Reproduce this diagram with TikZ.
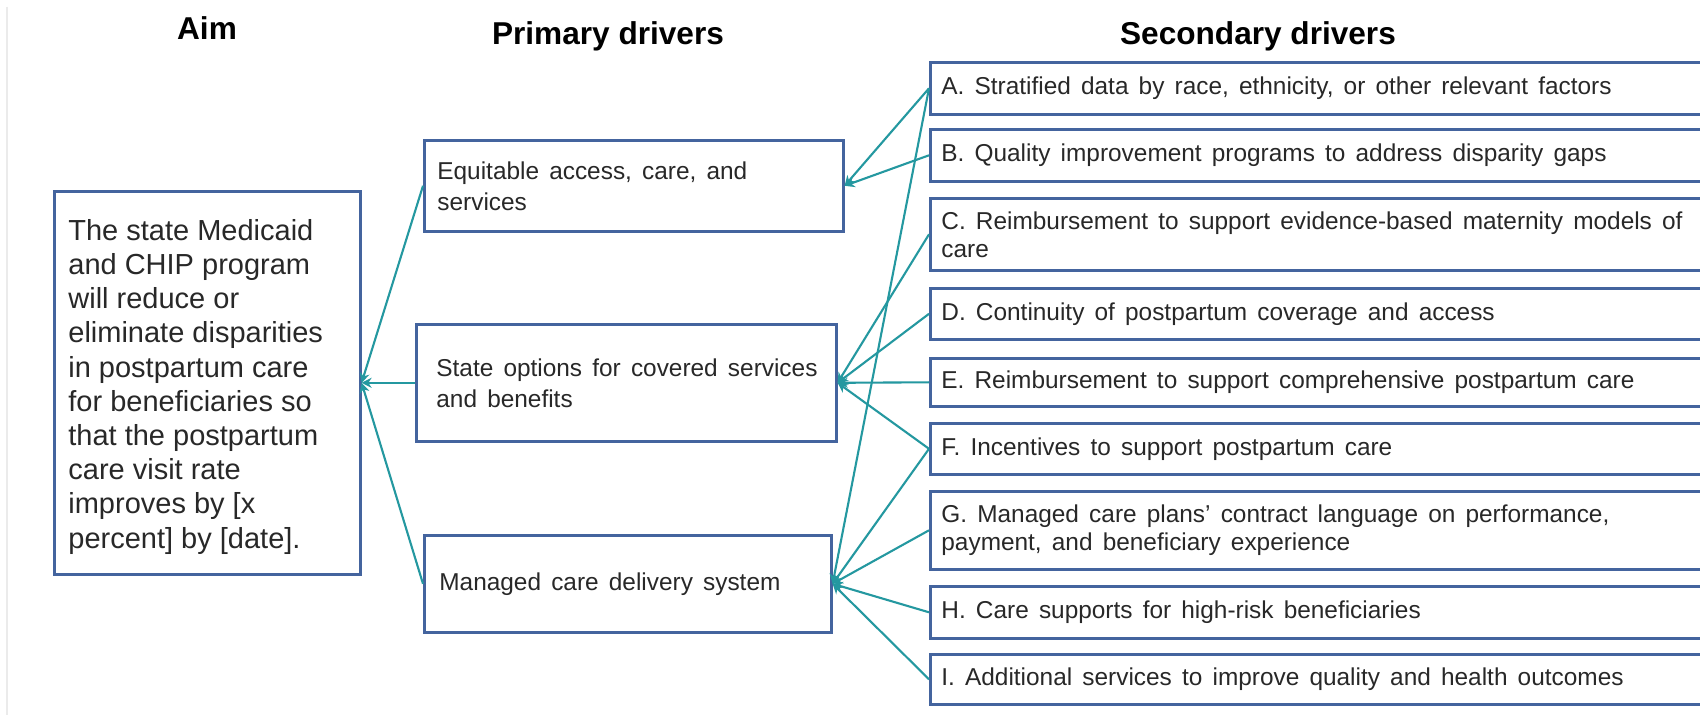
\documentclass[tikz,border=0pt]{standalone}
\usepackage{fontspec}
\setmainfont{Liberation Sans}
\newfontfamily\widefont[WordSpace=1.5]{Liberation Sans}
\usetikzlibrary{arrows.meta}
\definecolor{boxblue}{RGB}{68,100,158}
\definecolor{linkteal}{RGB}{36,152,160}
\definecolor{txt}{RGB}{40,40,40}
\begin{document}
\begin{tikzpicture}[x=0.5pt,y=-0.5pt,
  frame/.style={draw=boxblue,line width=1.3pt,fill=white,anchor=north west,inner sep=0pt},
  sectext/.style={anchor=west,align=left,inner sep=0pt,text=txt,font=\widefont\fontsize{12.2}{14}\selectfont},
  primtext/.style={anchor=west,align=left,inner sep=0pt,text=txt,font=\widefont\fontsize{12.2}{15.5}\selectfont},
  aimtext/.style={anchor=west,align=left,inner sep=0pt,text=txt,font=\fontsize{14.5}{17.1}\selectfont},
  title/.style={inner sep=0pt,font=\bfseries\fontsize{15.8}{18}\selectfont},
  conn/.style={draw=linkteal,line width=1.05pt,-{Stealth[length=5pt,width=5pt]}}
]
\useasboundingbox (0,0) rectangle (1700,715);
\clip (0,0) rectangle (1700,715);
\fill[white] (0,0) rectangle (1700,715);
\draw[black!8,line width=1pt] (7,7) -- (7,715);

% titles
\node[title] (taim) at (207,28) {Aim};
\node[title] (tprim) at (608,36) {Primary drivers};
\node[title] (tsec) at (1258,36) {Secondary drivers};

% aim box
\node[frame,minimum width=153pt,minimum height=191.5pt] (aim) at (53,190) {};
\node[aimtext] (aimt) at ([xshift=7.5pt,yshift=-2pt]aim.west) {The state Medicaid\\and CHIP program\\will reduce or\\eliminate disparities\\in postpartum care\\for beneficiaries so\\that the postpartum\\care visit rate\\improves by [x\\percent] by [date].};

% primary boxes
\node[frame,minimum width=209.5pt,minimum height=45.5pt] (p1) at (423,139) {};
\node[primtext] (p1t) at ([xshift=7pt]p1.west) {Equitable access, care, and\\services};
\node[frame,minimum width=210pt,minimum height=58.5pt] (p2) at (415,323) {};
\node[primtext] (p2t) at ([xshift=10.5pt]p2.west) {State options for covered services\\and benefits};
\node[frame,minimum width=203.5pt,minimum height=48.5pt] (p3) at (423,534) {};
\node[primtext] (p3t) at ([xshift=8pt]p3.west) {Managed care delivery system};

% secondary boxes
\node[frame,minimum width=390.5pt,minimum height=26pt] (sA) at (929,61) {};
\node[sectext] (sAt) at ([xshift=6pt]sA.west) {A. Stratified data by race, ethnicity, or other relevant factors};
\node[frame,minimum width=390.5pt,minimum height=26pt] (sB) at (929,128) {};
\node[sectext] (sBt) at ([xshift=6pt]sB.west) {B. Quality improvement programs to address disparity gaps};
\node[frame,minimum width=390.5pt,minimum height=36pt] (sC) at (929,197) {};
\node[sectext] (sCt) at ([xshift=6pt]sC.west) {C. Reimbursement to support evidence-based maternity models of\\care};
\node[frame,minimum width=390.5pt,minimum height=25.5pt] (sD) at (929,287) {};
\node[sectext] (sDt) at ([xshift=6pt]sD.west) {D. Continuity of postpartum coverage and access};
\node[frame,minimum width=390.5pt,minimum height=24pt] (sE) at (929,357) {};
\node[sectext] (sEt) at ([xshift=6pt]sE.west) {E. Reimbursement to support comprehensive postpartum care};
\node[frame,minimum width=390.5pt,minimum height=25.5pt] (sF) at (929,422) {};
\node[sectext] (sFt) at ([xshift=6pt]sF.west) {F. Incentives to support postpartum care};
\node[frame,minimum width=390.5pt,minimum height=39pt] (sG) at (929,490) {};
\node[sectext] (sGt) at ([xshift=6pt]sG.west) {G. Managed care plans’ contract language on performance,\\payment, and beneficiary experience};
\node[frame,minimum width=390.5pt,minimum height=26pt] (sH) at (929,585) {};
\node[sectext] (sHt) at ([xshift=6pt]sH.west) {H. Care supports for high-risk beneficiaries};
\node[frame,minimum width=390.5pt,minimum height=25pt] (sI) at (929,653) {};
\node[sectext] (sIt) at ([xshift=6pt]sI.west) {I. Additional services to improve quality and health outcomes};

% connectors secondary -> primary
\draw[conn] (sA.west) -- (p1.east);
\draw[conn] (sB.west) -- (p1.east);
\draw[conn] (sA.west) -- (p3.east);
\draw[conn] (sC.west) -- (p2.east);
\draw[conn] (sD.west) -- (p2.east);
\draw[conn] (sE.west) -- (p2.east);
\draw[conn] (sF.west) -- (p2.east);
\draw[conn] (sF.west) -- (p3.east);
\draw[conn] (sG.west) -- (p3.east);
\draw[conn] (sH.west) -- (p3.east);
\draw[conn] (sI.west) -- (p3.east);

% connectors primary -> aim
\draw[conn] (p1.west) -- (aim.east);
\draw[conn] (p2.west) -- (aim.east);
\draw[conn] (p3.west) -- (aim.east);
\end{tikzpicture}
\end{document}
